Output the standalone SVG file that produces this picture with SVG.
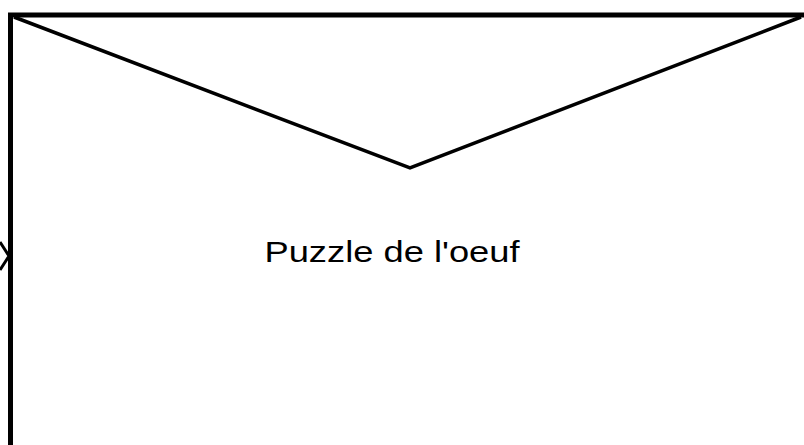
<svg xmlns="http://www.w3.org/2000/svg" width="804" height="445" viewBox="0 0 804 445">
<style>
.frame{fill:none;stroke:#000;stroke-width:5;stroke-linejoin:miter}
.flap{fill:none;stroke:#000;stroke-width:3.5;stroke-linejoin:miter}
.lbl{font-family:"Liberation Sans",Arial,sans-serif;font-size:29px;fill:#000}
.arrow{fill:none;stroke:#000;stroke-width:3}
</style>
<rect width="804" height="445" fill="#fff"/>
<g id="envelope">
<path class="frame" d="M10.5 445 V15 H804"/>
<path class="flap" d="M14 17 L410 168 L801 17"/>
<text class="lbl" x="392" y="262" text-anchor="middle" textLength="255" lengthAdjust="spacingAndGlyphs">Puzzle de l'oeuf</text>
</g>
<g id="connectors">
<path class="arrow" d="M0 242 L9 256 L0 270"/>
</g>
</svg>
